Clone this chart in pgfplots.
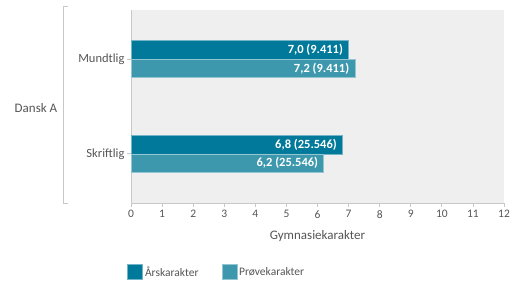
\documentclass[border=0pt]{standalone}
\usepackage{pgfplots}
\pgfplotsset{compat=1.18}
\usepackage{fontspec}
\setmainfont{Carlito}
\definecolor{ars}{HTML}{00799A}
\definecolor{prove}{HTML}{3D98AE}
\definecolor{bg}{HTML}{EFEFEF}
\definecolor{txt}{HTML}{555555}
\definecolor{axgray}{HTML}{C8C8C8}
\begin{document}
\begin{tikzpicture}[x=1pt,y=1pt]
\path[use as bounding box] (0pt,0pt) rectangle (512pt,284pt);
\begin{axis}[
  at={(131pt,81pt)}, anchor=south west,
  scale only axis, width=373pt, height=193pt,
  xbar, bar width=18.5pt,
  xmin=0, xmax=12, xtick={0,...,12},
  ymin=-0.52, ymax=1.52, ytick={0,1}, yticklabels={Skriftlig,Mundtlig},
  axis background/.style={fill=bg},
  axis x line*=bottom, axis y line*=left,
  axis line style={axgray, line width=0.8pt},
  x axis line style={-}, y axis line style={-},
  tick align=outside, major tick length=4pt,
  tick style={axgray, line width=0.8pt},
  ticklabel style={text=txt, font=\fontsize{11.5}{13}\selectfont},
  yticklabel style={xshift=1pt, font=\fontsize{12.5}{14}\selectfont},
  /pgf/number format/assume math mode=true,
  xlabel={Gymnasiekarakter},
  xlabel style={text=txt, font=\fontsize{13}{15}\selectfont, yshift=-5pt},
  nodes near coords,
  point meta=explicit symbolic,
  nodes near coords style={anchor=east, xshift=-2pt, text=white, font=\fontsize{12.5}{14}\selectfont\bfseries},
  legend columns=2,
  legend style={at={(-0.018,-0.357)}, anchor=west, draw=none, fill=none,
    font=\fontsize{11.5}{13}\selectfont, text=txt,
    /tikz/every even column/.append style={column sep=21pt}},
  legend image code/.code={\draw[#1] (0pt,-7.5pt) rectangle (15pt,7.5pt);},
]
\addplot[fill=ars, draw=ars!55!white, line width=0.6pt, bar shift=9.25pt]
  table[col sep=semicolon, x=x, y=y, meta=label] {
x;y;label
7.0;1;7,0 (9.411)
6.8;0;6,8 (25.546)
};
\addlegendentry{Årskarakter}
\addplot[fill=prove, draw=prove!55!white, line width=0.6pt, bar shift=-9.25pt]
  table[col sep=semicolon, x=x, y=y, meta=label] {
x;y;label
7.2;1;7,2 (9.411)
6.2;0;6,2 (25.546)
};
\addlegendentry{Prøvekarakter}
\end{axis}
\draw[axgray, line width=1pt] (68pt,277pt) -- (63pt,277pt) -- (63pt,80pt) -- (68pt,80pt);
\node[text=txt, font=\fontsize{13}{15}\selectfont] at (36pt,176pt) {Dansk A};
\end{tikzpicture}
\end{document}
